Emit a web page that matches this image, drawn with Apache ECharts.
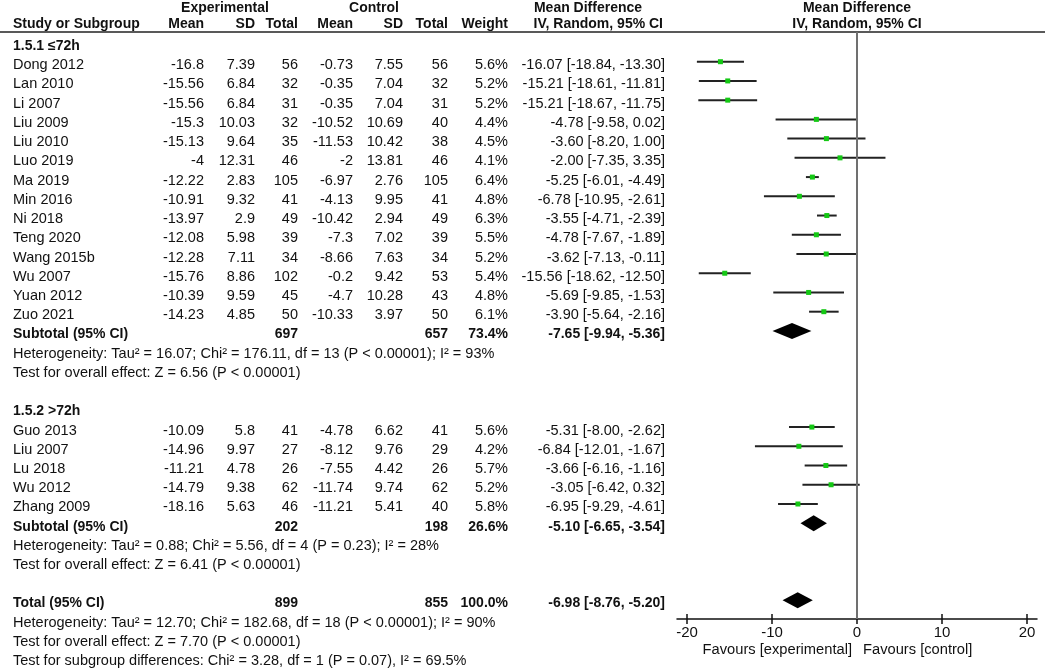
<!DOCTYPE html>
<html><head><meta charset="utf-8">
<script src="https://cdn.jsdelivr.net/npm/echarts@6/dist/echarts.min.js"></script>
<style>html,body{margin:0;padding:0;background:#fff}#c{width:1052px;height:668px}</style>
</head><body><div id="c"></div><script>
// ---------- data ----------
const groupLabels = ['1.5.1 ≤72h', '1.5.2 >72h'];

const studies1 = ['Dong 2012','Lan 2010','Li 2007','Liu 2009','Liu 2010','Luo 2019','Ma 2019','Min 2016','Ni 2018','Teng 2020','Wang 2015b','Wu 2007','Yuan 2012','Zuo 2021'];
const expMean1 = [-16.8,-15.56,-15.56,-15.3,-15.13,-4,-12.22,-10.91,-13.97,-12.08,-12.28,-15.76,-10.39,-14.23];
const expSD1   = [7.39,6.84,6.84,10.03,9.64,12.31,2.83,9.32,2.9,5.98,7.11,8.86,9.59,4.85];
const expN1    = [56,32,31,32,35,46,105,41,49,39,34,102,45,50];
const ctlMean1 = [-0.73,-0.35,-0.35,-10.52,-11.53,-2,-6.97,-4.13,-10.42,-7.3,-8.66,-0.2,-4.7,-10.33];
const ctlSD1   = [7.55,7.04,7.04,10.69,10.42,13.81,2.76,9.95,2.94,7.02,7.63,9.42,10.28,3.97];
const ctlN1    = [56,32,31,40,38,46,105,41,49,39,34,53,43,50];
const weight1  = ['5.6%','5.2%','5.2%','4.4%','4.5%','4.1%','6.4%','4.8%','6.3%','5.5%','5.2%','5.4%','4.8%','6.1%'];
const md1 = [-16.07,-15.21,-15.21,-4.78,-3.60,-2.00,-5.25,-6.78,-3.55,-4.78,-3.62,-15.56,-5.69,-3.90];
const lo1 = [-18.84,-18.61,-18.67,-9.58,-8.20,-7.35,-6.01,-10.95,-4.71,-7.67,-7.13,-18.62,-9.85,-5.64];
const hi1 = [-13.30,-11.81,-11.75,0.02,1.00,3.35,-4.49,-2.61,-2.39,-1.89,-0.11,-12.50,-1.53,-2.16];

const studies2 = ['Guo 2013','Liu 2007','Lu 2018','Wu 2012','Zhang 2009'];
const expMean2 = [-10.09,-14.96,-11.21,-14.79,-18.16];
const expSD2   = [5.8,9.97,4.78,9.38,5.63];
const expN2    = [41,27,26,62,46];
const ctlMean2 = [-4.78,-8.12,-7.55,-11.74,-11.21];
const ctlSD2   = [6.62,9.76,4.42,9.74,5.41];
const ctlN2    = [41,29,26,62,40];
const weight2  = ['5.6%','4.2%','5.7%','5.2%','5.8%'];
const md2 = [-5.31,-6.84,-3.66,-3.05,-6.95];
const lo2 = [-8.00,-12.01,-6.16,-6.42,-9.29];
const hi2 = [-2.62,-1.67,-1.16,0.32,-4.61];

// subtotal / total: [expTotal, ctlTotal, weight, md, lo, hi]
const sub1  = [697, 657, '73.4%', -7.65, -9.94, -5.36];
const sub2  = [202, 198, '26.6%', -5.10, -6.65, -3.54];
const total = [899, 855, '100.0%', -6.98, -8.76, -5.20];

const het1 = 'Heterogeneity: Tau² = 16.07; Chi² = 176.11, df = 13 (P < 0.00001); I² = 93%';
const test1 = 'Test for overall effect: Z = 6.56 (P < 0.00001)';
const het2 = 'Heterogeneity: Tau² = 0.88; Chi² = 5.56, df = 4 (P = 0.23); I² = 28%';
const test2 = 'Test for overall effect: Z = 6.41 (P < 0.00001)';
const hetT = 'Heterogeneity: Tau² = 12.70; Chi² = 182.68, df = 18 (P < 0.00001); I² = 90%';
const testT = 'Test for overall effect: Z = 7.70 (P < 0.00001)';
const testSub = 'Test for subgroup differences: Chi² = 3.28, df = 1 (P = 0.07), I² = 69.5%';

const xTicks = [-20, -10, 0, 10, 20];
const favoursLeft = 'Favours [experimental]';
const favoursRight = 'Favours [control]';

// ---------- layout ----------
const FONT = '"Liberation Sans", Arial, sans-serif';
const FS = 14.5, FSB = 14;
const COL = {name:13, expMean:204, expSD:255, expN:298, ctlMean:353, ctlSD:403, ctlN:448, weight:508, ci:665};
const ROW_PX0 = 61.7, ROW_STEP = 19.23, AXIS_Y = 619;
const yMin = -ROW_PX0 / ROW_STEP, yMax = (AXIS_Y - ROW_PX0) / ROW_STEP;
const fmtCI = (m, l, h) => m.toFixed(2) + ' [' + l.toFixed(2) + ', ' + h.toFixed(2) + ']';

const textItems = [];   // {x,row,text,align,bold}
const studyMarks = [];  // [md, lo, hi, row]
const diamondMarks = [];// [md, lo, hi, row]
function t(x, row, text, align, bold) { textItems.push({x, row, text: String(text), align, bold: !!bold}); }

function addGroup(startRow, label, names, em, es, en, cm, cs, cn, w, md, lo, hi, sub, het, test) {
  t(COL.name, startRow - 1, label, 'left', true);
  names.forEach((n, k) => {
    const r = startRow + k;
    t(COL.name, r, n, 'left');
    t(COL.expMean, r, em[k], 'right');
    t(COL.expSD, r, es[k], 'right');
    t(COL.expN, r, en[k], 'right');
    t(COL.ctlMean, r, cm[k], 'right');
    t(COL.ctlSD, r, cs[k], 'right');
    t(COL.ctlN, r, cn[k], 'right');
    t(COL.weight, r, w[k], 'right');
    t(COL.ci, r, fmtCI(md[k], lo[k], hi[k]), 'right');
    studyMarks.push([md[k], lo[k], hi[k], r]);
  });
  const sr = startRow + names.length;
  t(COL.name, sr, 'Subtotal (95% CI)', 'left', true);
  t(COL.expN, sr, sub[0], 'right', true);
  t(COL.ctlN, sr, sub[1], 'right', true);
  t(COL.weight, sr, sub[2], 'right', true);
  t(COL.ci, sr, fmtCI(sub[3], sub[4], sub[5]), 'right', true);
  diamondMarks.push([sub[3], sub[4], sub[5], sr]);
  t(COL.name, sr + 1, het, 'left');
  t(COL.name, sr + 2, test, 'left');
  return sr + 4;
}
let next = addGroup(0, groupLabels[0], studies1, expMean1, expSD1, expN1, ctlMean1, ctlSD1, ctlN1, weight1, md1, lo1, hi1, sub1, het1, test1);
next = addGroup(next + 1, groupLabels[1], studies2, expMean2, expSD2, expN2, ctlMean2, ctlSD2, ctlN2, weight2, md2, lo2, hi2, sub2, het2, test2);
const totRow = next;
t(COL.name, totRow, 'Total (95% CI)', 'left', true);
t(COL.expN, totRow, total[0], 'right', true);
t(COL.ctlN, totRow, total[1], 'right', true);
t(COL.weight, totRow, total[2], 'right', true);
t(COL.ci, totRow, fmtCI(total[3], total[4], total[5]), 'right', true);
diamondMarks.push([total[3], total[4], total[5], totRow]);
t(COL.name, totRow + 1, hetT, 'left');
t(COL.name, totRow + 2, testT, 'left');
t(COL.name, totRow + 3, testSub, 'left');

const TXT = '#111';
function hdr(x, y, text, align) {
  return {type:'text', x, y, silent:true, style:{text, align, verticalAlign:'middle', fontFamily:FONT, fontSize:FSB, fontWeight:'bold', fill:TXT}};
}

const chart = echarts.init(document.getElementById('c'), null, {renderer:'canvas'});
chart.setOption({
  animation:false,
  backgroundColor:'#fff',
  grid:[
    {left:677, right:15, top:0, height:AXIS_Y},
    {left:0, top:0, width:680, height:AXIS_Y}
  ],
  xAxis:[
    {gridIndex:0, type:'value', min:-21.18, max:21.18, position:'bottom',
     axisLine:{show:true, onZero:false, lineStyle:{color:'#111', width:1.5}},
     axisTick:{show:true, customValues:xTicks, length:5, lineStyle:{color:'#111', width:1.5}},
     axisLabel:{show:true, customValues:xTicks, margin:6, fontSize:15, fontFamily:FONT, color:TXT},
     splitLine:{show:false}},
    {gridIndex:0, type:'value', min:-21.18, max:21.18, position:'bottom',
     axisLine:{show:false, onZero:false},
     axisTick:{show:true, inside:true, customValues:xTicks, length:5, lineStyle:{color:'#111', width:1.5}},
     axisLabel:{show:false}, splitLine:{show:false}},
    {gridIndex:1, type:'value', min:0, max:680, show:false}
  ],
  yAxis:[
    {gridIndex:0, type:'value', inverse:true, min:yMin, max:yMax, show:false},
    {gridIndex:1, type:'value', inverse:true, min:yMin, max:yMax, show:false}
  ],
  graphic:[
    {type:'line', silent:true, shape:{x1:0, y1:32, x2:1045, y2:32}, style:{stroke:'#222', lineWidth:1.5}},
    hdr(225, 8, 'Experimental', 'center'),
    hdr(374, 8, 'Control', 'center'),
    hdr(588, 8, 'Mean Difference', 'center'),
    hdr(857, 8, 'Mean Difference', 'center'),
    hdr(13, 24, 'Study or Subgroup', 'left'),
    hdr(204, 24, 'Mean', 'right'),
    hdr(255, 24, 'SD', 'right'),
    hdr(298, 24, 'Total', 'right'),
    hdr(353, 24, 'Mean', 'right'),
    hdr(403, 24, 'SD', 'right'),
    hdr(448, 24, 'Total', 'right'),
    hdr(508, 24, 'Weight', 'right'),
    hdr(663, 24, 'IV, Random, 95% CI', 'right'),
    hdr(857, 24, 'IV, Random, 95% CI', 'center'),
    {type:'text', x:852, y:650, silent:true, style:{text:favoursLeft, align:'right', verticalAlign:'middle', fontFamily:FONT, fontSize:14.7, fill:TXT}},
    {type:'text', x:863, y:650, silent:true, style:{text:favoursRight, align:'left', verticalAlign:'middle', fontFamily:FONT, fontSize:14.7, fill:TXT}}
  ],
  series:[
    {
      type:'custom', xAxisIndex:2, yAxisIndex:1, clip:false, silent:true,
      data:textItems.map(d => [d.x, d.row]),
      renderItem:(params, api) => {
        const d = textItems[params.dataIndex];
        const p = api.coord([api.value(0), api.value(1)]);
        return {type:'text', x:p[0], y:p[1] + 3.5,
          style:{text:d.text, align:d.align, verticalAlign:'middle', fontFamily:FONT,
                 fontSize:d.bold ? FSB : FS, fontWeight:d.bold ? 'bold' : 'normal', fill:TXT}};
      }
    },
    {
      type:'custom', xAxisIndex:0, yAxisIndex:0, clip:false, silent:true,
      data:studyMarks,
      renderItem:(params, api) => {
        const pm = api.coord([api.value(0), api.value(3)]);
        const pl = api.coord([api.value(1), api.value(3)]);
        const ph = api.coord([api.value(2), api.value(3)]);
        return {type:'group', children:[
          {type:'line', shape:{x1:pl[0], y1:pl[1], x2:ph[0], y2:ph[1]}, style:{stroke:'#222', lineWidth:2}},
          {type:'rect', shape:{x:pm[0]-2.5, y:pm[1]-2.5, width:5, height:5}, style:{fill:'#14c814'}}
        ]};
      },
      markLine:{silent:true, symbol:'none', label:{show:false},
        lineStyle:{color:'#707070', width:2, type:'solid'},
        data:[[{coord:[0, (32 - ROW_PX0) / ROW_STEP]}, {coord:[0, yMax]}]]}
    },
    {
      type:'custom', xAxisIndex:0, yAxisIndex:0, clip:false, silent:true,
      data:diamondMarks,
      renderItem:(params, api) => {
        const pm = api.coord([api.value(0), api.value(3)]);
        const pl = api.coord([api.value(1), api.value(3)]);
        const ph = api.coord([api.value(2), api.value(3)]);
        const h = 8;
        return {type:'polygon', shape:{points:[[pl[0], pl[1]], [pm[0], pm[1]-h], [ph[0], ph[1]], [pm[0], pm[1]+h]]},
          style:{fill:'#000'}};
      }
    }
  ]
});
</script></body></html>
